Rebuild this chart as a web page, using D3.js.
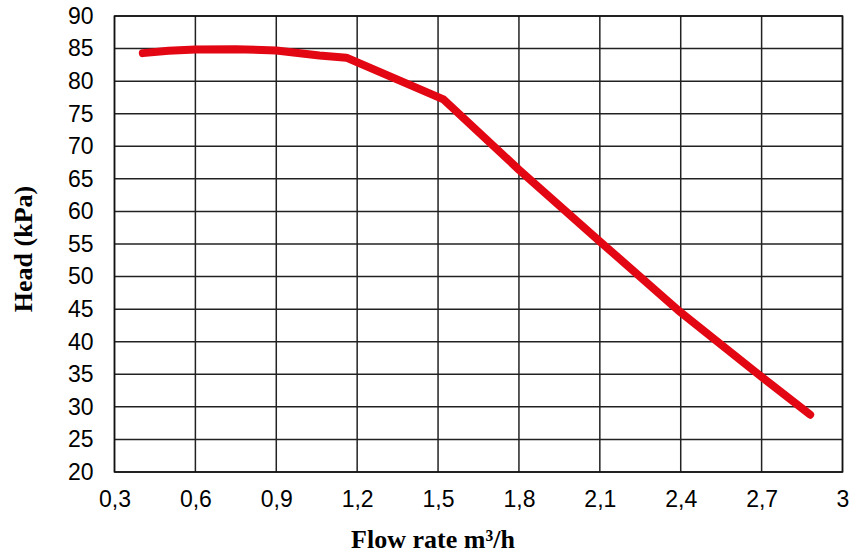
<!DOCTYPE html>
<html>
<head>
<meta charset="utf-8">
<script src="https://cdn.jsdelivr.net/npm/d3@7"></script>
<style>
  body { margin: 0; background: #fff; }
</style>
</head>
<body>
<div id="chart"></div>
<script>
// pump curve
const flow = [0.405, 0.5, 0.6, 0.75, 0.9, 1.06, 1.16, 1.52, 1.8, 2.1, 2.4, 2.7, 2.88];
const head = [84.3, 84.65, 84.85, 84.9, 84.7, 83.95, 83.6, 77.2, 66.4, 55.4, 44.5, 34.6, 28.8];
const xTicks = [0.3, 0.6, 0.9, 1.2, 1.5, 1.8, 2.1, 2.4, 2.7, 3];
const yTicks = [20, 25, 30, 35, 40, 45, 50, 55, 60, 65, 70, 75, 80, 85, 90];

const width = 851;
const height = 555;
const margin = { top: 16, right: 8.5, bottom: 83, left: 114.5 };

const svg = d3.select('#chart')
  .append('svg')
  .attr('width', width)
  .attr('height', height);

const x = d3.scaleLinear()
  .domain([0.3, 3])
  .range([margin.left, width - margin.right]);

const y = d3.scaleLinear()
  .domain([20, 90])
  .range([height - margin.bottom, margin.top]);

const fmt = d => String(d).replace('.', ',');

// grid
svg.append('g')
  .attr('stroke', '#222')
  .attr('stroke-width', 1.5)
  .selectAll('line.h')
  .data(yTicks)
  .join('line')
    .attr('x1', x(0.3)).attr('x2', x(3))
    .attr('y1', d => y(d)).attr('y2', d => y(d));

svg.append('g')
  .attr('stroke', '#222')
  .attr('stroke-width', 1.5)
  .selectAll('line.v')
  .data(xTicks)
  .join('line')
    .attr('x1', d => x(d)).attr('x2', d => x(d))
    .attr('y1', y(20)).attr('y2', y(90));

svg.append('rect')
  .attr('x', x(0.3)).attr('y', y(90))
  .attr('width', x(3) - x(0.3)).attr('height', y(20) - y(90))
  .attr('fill', 'none')
  .attr('stroke', '#111')
  .attr('stroke-width', 1.5);

// the curve
const line = d3.line()
  .x((d, i) => x(flow[i]))
  .y(d => y(d));

svg.append('path')
  .datum(head)
  .attr('d', line)
  .attr('fill', 'none')
  .attr('stroke', '#e30613')
  .attr('stroke-width', 8)
  .attr('stroke-linecap', 'round')
  .attr('stroke-linejoin', 'round');

// axes (labels only)
function xAxis(g) {
  g.attr('transform', `translate(0,${y(20)})`)
    .call(d3.axisBottom(x).tickValues(xTicks).tickFormat(fmt).tickSize(0).tickPadding(19))
    .attr('font-family', 'Liberation Sans, Arial, sans-serif')
    .attr('font-size', '23px')
    .call(g => g.select('.domain').remove())
    .call(g => g.selectAll('text').attr('fill', '#000'));
}

function yAxis(g) {
  g.attr('transform', `translate(${x(0.3)},0)`)
    .call(d3.axisLeft(y).tickValues(yTicks).tickSize(0).tickPadding(21))
    .attr('font-family', 'Liberation Sans, Arial, sans-serif')
    .attr('font-size', '23px')
    .call(g => g.select('.domain').remove())
    .call(g => g.selectAll('text').attr('fill', '#000'));
}

svg.append('g').call(xAxis);
svg.append('g').call(yAxis);

svg.append('text')
  .attr('text-anchor', 'middle')
  .attr('x', 433)
  .attr('y', 548)
  .attr('font-family', 'Liberation Serif, Times New Roman, serif')
  .attr('font-weight', 'bold')
  .attr('font-size', '26px')
  .text('Flow rate m³/h');

svg.append('text')
  .attr('text-anchor', 'middle')
  .attr('transform', `translate(32,${(y(20) + y(90)) / 2 + 5}) rotate(-90)`)
  .attr('font-family', 'Liberation Serif, Times New Roman, serif')
  .attr('font-weight', 'bold')
  .attr('font-size', '26px')
  .text('Head (kPa)');
</script>
</body>
</html>
